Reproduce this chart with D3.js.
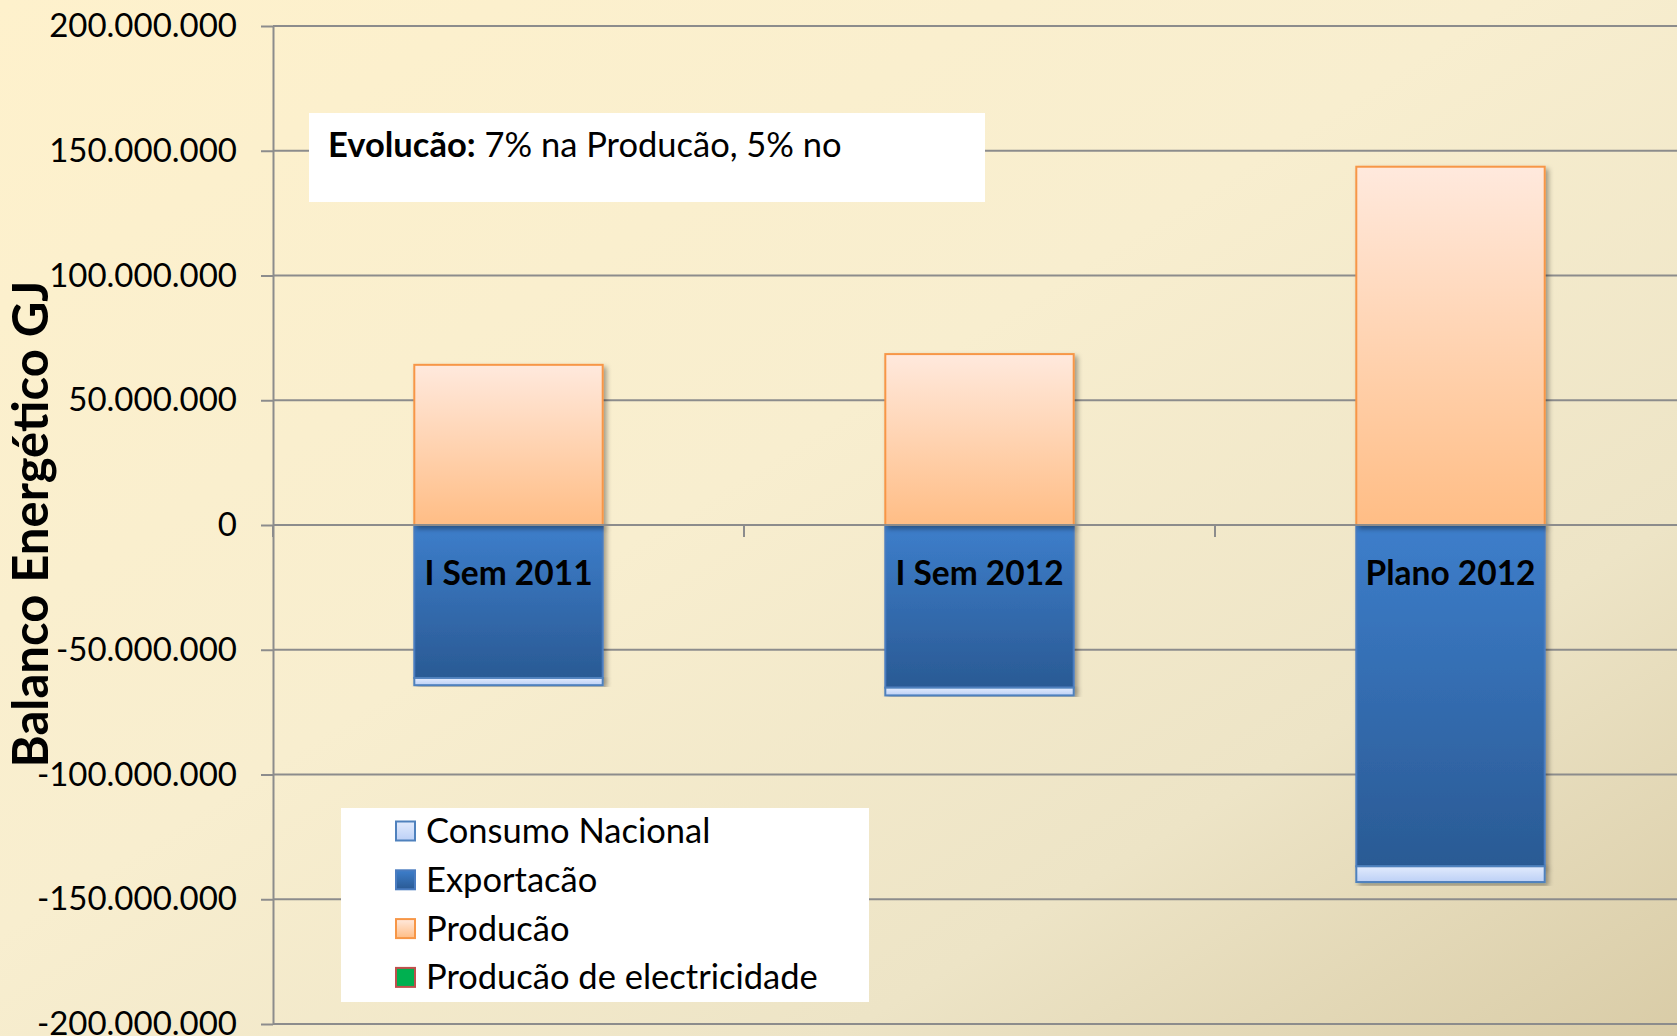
<!DOCTYPE html>
<html>
<head>
<meta charset="utf-8">
<script src="https://cdn.jsdelivr.net/npm/d3@7"></script>
<style>
  body { margin: 0; background: #fff; }
  svg { display: block; font-family: Lato, "Open Sans", sans-serif; }
</style>
</head>
<body>
<div id="chart"></div>
<script>
// Chart data (GJ)
const categories = ["I Sem 2011", "I Sem 2012", "Plano 2012"];
const consumoNacional = [-2.9e6, -3.1e6, -6.3e6];
const exportacao = [-61.3e6, -65.2e6, -136.8e6];
const producao = [64.2e6, 68.5e6, 143.6e6];
const producaoElectricidade = [0, 0, 0];
const yTicks = [-200e6, -150e6, -100e6, -50e6, 0, 50e6, 100e6, 150e6, 200e6];
const legendLabels = ["Consumo Nacional", "Exportacão", "Producão", "Producão de electricidade"];
const yTitle = "Balanco Energético GJ";
const noteBold = "Evolucão:";
const noteText = " 7% na Producão, 5% no";

const WIDTH = 1677;
const HEIGHT = 1036;
const PLOT_LEFT = 273;
const PLOT_RIGHT = 1686;
const PLOT_TOP = 26;
const PLOT_BOTTOM = 1024;

// Rows for the stack
const rows = categories.map((c, i) => ({
    category: c,
    "Consumo Nacional": consumoNacional[i],
    "Exportacão": exportacao[i],
    "Producão": producao[i],
    "Producão de electricidade": producaoElectricidade[i]
}));

// Exportacão sits next to zero, Consumo below it
const stackKeys = ["Exportacão", "Consumo Nacional", "Producão", "Producão de electricidade"];
const series = d3.stack().keys(stackKeys).offset(d3.stackOffsetDiverging)(rows);

const styles = {
    "Consumo Nacional": { top: "#e2ebfd", bottom: "#bcd0f6", stroke: "#4f81bd" },
    "Exportacão": { top: "#3d7ecb", bottom: "#2a5a94", stroke: "#4a7cc0" },
    "Producão": { top: "#ffe9dd", bottom: "#ffbd85", stroke: "#f79646" },
    "Producão de electricidade": { top: "#00b050", bottom: "#00b050", stroke: "#c0504d" }
};

const locale = d3.formatLocale({ decimal: ",", thousands: ".", grouping: [3], currency: ["", ""], minus: "-" });
const fmt = locale.format(",d");

const svg = d3.select("#chart")
    .append("svg")
    .attr("width", WIDTH)
    .attr("height", HEIGHT);

const defs = svg.append("defs");

// Background gradient
const bg = defs.append("linearGradient")
    .attr("id", "bg")
    .attr("x1", 0).attr("y1", 0).attr("x2", 1).attr("y2", 1);
bg.append("stop").attr("offset", "0%").attr("stop-color", "#fef1cc");
bg.append("stop").attr("offset", "45%").attr("stop-color", "#f8eecf");
bg.append("stop").attr("offset", "75%").attr("stop-color", "#ede4c6");
bg.append("stop").attr("offset", "100%").attr("stop-color", "#d9cca7");

// One gradient per series
Object.keys(styles).forEach((key, i) => {
    const g = defs.append("linearGradient")
        .attr("id", "grad" + i)
        .attr("x1", 0).attr("y1", 0).attr("x2", 0).attr("y2", 1);
    g.append("stop").attr("offset", "0%").attr("stop-color", styles[key].top);
    g.append("stop").attr("offset", "100%").attr("stop-color", styles[key].bottom);
    styles[key].fill = "url(#grad" + i + ")";
});

const shadow = defs.append("filter")
    .attr("id", "shadow")
    .attr("x", "-10%").attr("y", "-10%").attr("width", "130%").attr("height", "130%");
shadow.append("feDropShadow")
    .attr("dx", 3).attr("dy", 3)
    .attr("stdDeviation", 2.5)
    .attr("flood-color", "#000")
    .attr("flood-opacity", 0.35);

svg.append("rect")
    .attr("width", WIDTH)
    .attr("height", HEIGHT)
    .attr("fill", "url(#bg)");

// Scales
const x = d3.scaleBand()
    .domain(categories)
    .range([PLOT_LEFT, PLOT_RIGHT])
    .paddingInner(0.6)
    .paddingOuter(0.3);

const y = d3.scaleLinear()
    .domain([-200e6, 200e6])
    .range([PLOT_BOTTOM, PLOT_TOP]);

// Gridlines
svg.append("g")
    .selectAll("line")
    .data(yTicks)
    .enter().append("line")
    .attr("x1", PLOT_LEFT)
    .attr("x2", PLOT_RIGHT)
    .attr("y1", d => y(d))
    .attr("y2", d => y(d))
    .attr("stroke", "#8c8c8c")
    .attr("stroke-width", 2);

// Y axis
const yAxis = svg.append("g")
    .attr("transform", `translate(${PLOT_LEFT},0)`)
    .call(d3.axisLeft(y).tickValues(yTicks).tickFormat(fmt).tickSize(12).tickSizeOuter(0).tickPadding(24));
yAxis.select(".domain").attr("stroke", "#8c8c8c").attr("stroke-width", 2);
yAxis.selectAll(".tick line").attr("stroke", "#8c8c8c").attr("stroke-width", 2);
yAxis.selectAll(".tick text")
    .attr("fill", "#000")
    .style("font-size", "33px")
    .style("font-family", "Lato, sans-serif");

// Y title
svg.append("text")
    .attr("transform", `translate(48,524) rotate(-90)`)
    .attr("text-anchor", "middle")
    .style("font-size", "49px")
    .style("font-weight", "bold")
    .text(yTitle);

// Annotation box
svg.append("rect")
    .attr("x", 309).attr("y", 113)
    .attr("width", 676).attr("height", 89)
    .attr("fill", "#fff");
const note = svg.append("text")
    .attr("x", 328).attr("y", 157)
    .style("font-size", "34.5px");
note.append("tspan").style("font-weight", "bold").text(noteBold);
note.append("tspan").text(noteText);

// Bars
svg.append("g")
    .selectAll("g")
    .data(series)
    .enter().append("g")
    .selectAll("rect")
    .data(s => s.map(d => ({ key: s.key, d: d })))
    .enter().append("rect")
    .filter(p => p.d[1] - p.d[0] !== 0)
    .attr("x", p => x(p.d.data.category))
    .attr("y", p => y(p.d[1]))
    .attr("width", x.bandwidth())
    .attr("height", p => y(p.d[0]) - y(p.d[1]))
    .attr("fill", p => styles[p.key].fill)
    .attr("stroke", p => styles[p.key].stroke)
    .attr("stroke-width", 2)
    .attr("filter", "url(#shadow)");

// Category axis on zero line, drawn over the bars
svg.append("line")
    .attr("x1", PLOT_LEFT).attr("x2", PLOT_RIGHT)
    .attr("y1", y(0)).attr("y2", y(0))
    .attr("stroke", "#8c8c8c")
    .attr("stroke-width", 2);

svg.append("g")
    .selectAll("line")
    .data(categories)
    .enter().append("line")
    .attr("x1", d => x(d) + x.bandwidth() / 2 - x.step() / 2)
    .attr("x2", d => x(d) + x.bandwidth() / 2 - x.step() / 2)
    .attr("y1", y(0))
    .attr("y2", y(0) + 12)
    .attr("stroke", "#8c8c8c")
    .attr("stroke-width", 2);

const xAxis = svg.append("g")
    .attr("transform", `translate(0,${y(0)})`)
    .call(d3.axisBottom(x).tickSize(0));
xAxis.select(".domain").remove();
xAxis.selectAll(".tick text")
    .attr("y", 60)
    .attr("dy", 0)
    .attr("fill", "#000")
    .style("font-size", "33.5px")
    .style("font-weight", "bold")
    .style("font-family", "Lato, sans-serif");

// Legend
svg.append("rect")
    .attr("x", 341).attr("y", 808)
    .attr("width", 528).attr("height", 194)
    .attr("fill", "#fff");

const legend = svg.append("g")
    .selectAll("g")
    .data(legendLabels)
    .enter().append("g")
    .attr("transform", (d, i) => `translate(395,${831 + i * 48.8})`);
legend.append("rect")
    .attr("x", 1).attr("y", -9.5)
    .attr("width", 19).attr("height", 19)
    .attr("fill", d => styles[d].fill)
    .attr("stroke", d => styles[d].stroke)
    .attr("stroke-width", 2);
legend.append("text")
    .attr("x", 31)
    .attr("y", 12)
    .style("font-size", "34.5px")
    .text(d => d);
</script>
</body>
</html>
